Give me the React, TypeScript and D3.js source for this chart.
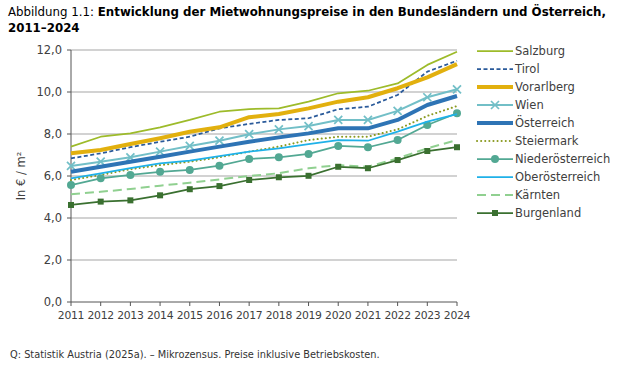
import React from 'react';
import { scaleLinear, scalePoint, line, formatLocale } from 'd3';

const years = [2011, 2012, 2013, 2014, 2015, 2016, 2017, 2018, 2019, 2020, 2021, 2022, 2023, 2024];
const yTicks = [0, 2, 4, 6, 8, 10, 12];

const salzburg = [7.4, 7.87, 8.03, 8.32, 8.67, 9.06, 9.19, 9.22, 9.54, 9.94, 10.06, 10.41, 11.29, 11.92];
const tirol = [6.84, 7.08, 7.37, 7.63, 7.87, 8.27, 8.48, 8.67, 8.75, 9.18, 9.3, 9.86, 10.97, 11.49];
const vorarlberg = [7.08, 7.24, 7.52, 7.8, 8.11, 8.32, 8.8, 8.95, 9.22, 9.54, 9.75, 10.18, 10.7, 11.33];
const wien = [6.48, 6.68, 6.89, 7.16, 7.43, 7.68, 7.99, 8.22, 8.38, 8.67, 8.67, 9.1, 9.75, 10.13];
const oesterreich = [6.2, 6.44, 6.68, 6.92, 7.16, 7.4, 7.63, 7.84, 8.03, 8.27, 8.27, 8.67, 9.38, 9.81];
const steiermark = [5.81, 6.05, 6.32, 6.52, 6.68, 6.89, 7.16, 7.4, 7.71, 7.87, 7.87, 8.22, 8.86, 9.33];
const niederoesterreich = [5.57, 5.89, 6.05, 6.2, 6.29, 6.49, 6.81, 6.89, 7.05, 7.43, 7.37, 7.71, 8.43, 8.99];
const oberoesterreich = [5.89, 6.13, 6.37, 6.6, 6.73, 6.95, 7.16, 7.32, 7.52, 7.71, 7.68, 8.11, 8.59, 8.95];
const kaernten = [5.13, 5.25, 5.38, 5.54, 5.68, 5.84, 6.0, 6.13, 6.37, 6.52, 6.44, 6.84, 7.32, 7.71];
const burgenland = [4.62, 4.78, 4.84, 5.08, 5.37, 5.52, 5.81, 5.94, 6.01, 6.44, 6.37, 6.76, 7.19, 7.37];

type Marker = 'none' | 'x' | 'circle' | 'square';

interface Series {
  name: string;
  values: number[];
  color: string;
  width: number;
  dash?: string;
  cap?: 'round' | 'butt';
  marker: Marker;
}

const series: Series[] = [
  { name: 'Salzburg', values: salzburg, color: '#9dbb2a', width: 1.75, marker: 'none' },
  { name: 'Tirol', values: tirol, color: '#2a5a9a', width: 1.75, dash: '4,2.5', marker: 'none' },
  { name: 'Vorarlberg', values: vorarlberg, color: '#e2b00e', width: 4, marker: 'none' },
  { name: 'Wien', values: wien, color: '#72bfc7', width: 2, marker: 'x' },
  { name: 'Österreich', values: oesterreich, color: '#2e74b5', width: 4, marker: 'none' },
  { name: 'Steiermark', values: steiermark, color: '#8a9a20', width: 2, dash: '0.1,4', cap: 'round', marker: 'none' },
  { name: 'Niederösterreich', values: niederoesterreich, color: '#52a893', width: 1.75, marker: 'circle' },
  { name: 'Oberösterreich', values: oberoesterreich, color: '#1fb1e8', width: 1.75, marker: 'none' },
  { name: 'Kärnten', values: kaernten, color: '#90d090', width: 2, dash: '9,5', marker: 'none' },
  { name: 'Burgenland', values: burgenland, color: '#3a7030', width: 1.75, marker: 'square' },
];

const de = formatLocale({ decimal: ',', thousands: '.', grouping: [3], currency: ['', ' €'] });
const fmt = de.format('.1f');

const font = '"DejaVu Sans", sans-serif';

function MarkerShape({ type, x, y, color }: { type: Marker; x: number; y: number; color: string }) {
  if (type === 'x') {
    const s = 4;
    return (
      <path
        d={`M${x - s},${y - s}L${x + s},${y + s}M${x - s},${y + s}L${x + s},${y - s}`}
        stroke={color}
        strokeWidth={1.75}
      />
    );
  }
  if (type === 'circle') return <circle cx={x} cy={y} r={4} fill={color} />;
  if (type === 'square') return <rect x={x - 3} y={y - 3} width={6} height={6} fill={color} />;
  return null;
}

export default function App() {
  const left = 71;
  const right = 457;
  const top = 50;
  const bottom = 302;

  const x = scalePoint<number>().domain(years).range([left, right]);
  const y = scaleLinear().domain([0, 12]).range([bottom, top]);

  const path = line<number>()
    .x((_, i) => x(years[i]) as number)
    .y((d) => y(d));

  const legendX = 477;
  const legendY0 = 51;
  const legendStep = 18;

  return (
    <svg width={619} height={367} style={{ position: 'absolute', left: 0, top: 0 }}>
      <rect width={619} height={367} fill="#ffffff" />
      <text x={8} y={16} fontFamily={font} fontSize={11.8} fill="#000">
        <tspan>Abbildung 1.1: </tspan>
        <tspan fontWeight="bold">Entwicklung der Mietwohnungspreise in den Bundesländern und Österreich,</tspan>
      </text>
      <text x={8} y={32} fontFamily={font} fontSize={11.8} fontWeight="bold" fill="#000">
        2011–2024
      </text>

      {yTicks.map((t) => (
        <g key={`y-${t}`}>
          {t > 0 && (
            <line x1={left} x2={right} y1={y(t)} y2={y(t)} stroke="#c3c3c3" strokeWidth={1.5} />
          )}
          <line x1={left - 4} x2={left} y1={y(t)} y2={y(t)} stroke="#555" strokeWidth={1} />
          <text
            x={left - 9}
            y={y(t)}
            dy="0.35em"
            textAnchor="end"
            fontFamily={font}
            fontSize={11.5}
            fill="#404040"
          >
            {fmt(t)}
          </text>
        </g>
      ))}

      <line x1={left} x2={left} y1={top} y2={bottom} stroke="#555" strokeWidth={1} />
      <line x1={left} x2={right} y1={bottom} y2={bottom} stroke="#555" strokeWidth={1} />
      {years.map((yr) => (
        <g key={`x-${yr}`}>
          <line x1={x(yr)} x2={x(yr)} y1={bottom} y2={bottom + 4} stroke="#555" strokeWidth={1} />
          <text
            x={x(yr)}
            y={bottom + 17}
            textAnchor="middle"
            fontFamily={font}
            fontSize={10.8}
            letterSpacing={-0.3}
            fill="#404040"
          >
            {yr}
          </text>
        </g>
      ))}

      <text
        transform={`translate(25, ${(top + bottom) / 2}) rotate(-90)`}
        textAnchor="middle"
        fontFamily={font}
        fontSize={11.5}
        fill="#404040"
      >
        In € / m²
      </text>

      {series.map((s) => (
        <g key={s.name}>
          <path
            d={path(s.values) ?? ''}
            fill="none"
            stroke={s.color}
            strokeWidth={s.width}
            strokeDasharray={s.dash}
            strokeLinecap={s.cap ?? 'butt'}
            strokeLinejoin="round"
          />
          {s.marker !== 'none' &&
            s.values.map((v, i) => (
              <MarkerShape key={i} type={s.marker} x={x(years[i]) as number} y={y(v)} color={s.color} />
            ))}
        </g>
      ))}

      {series.map((s, i) => {
        const ly = legendY0 + i * legendStep;
        return (
          <g key={`leg-${s.name}`}>
            <line
              x1={legendX}
              x2={legendX + 36}
              y1={ly}
              y2={ly}
              stroke={s.color}
              strokeWidth={s.width}
              strokeDasharray={s.dash}
              strokeLinecap={s.cap ?? 'butt'}
            />
            <MarkerShape type={s.marker} x={legendX + 18} y={ly} color={s.color} />
            <text x={legendX + 38} y={ly} dy="0.35em" fontFamily={font} fontSize={11.5} fill="#404040">
              {s.name}
            </text>
          </g>
        );
      })}

      <text x={10} y={358} fontFamily={font} fontSize={9.8} fill="#333">
        Q: Statistik Austria (2025a). – Mikrozensus. Preise inklusive Betriebskosten.
      </text>
    </svg>
  );
}
